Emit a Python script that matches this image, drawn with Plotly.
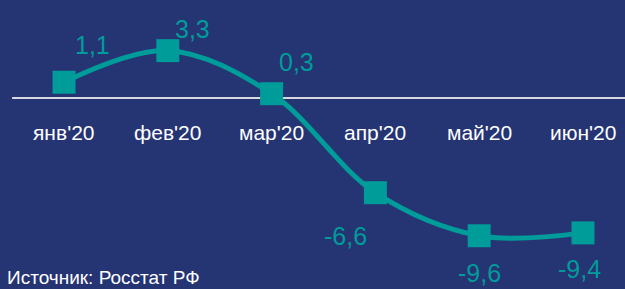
import plotly.graph_objects as go

categories = ["янв'20", "фев'20", "мар'20", "апр'20", "май'20", "июн'20"]
values = [1.1, 3.3, 0.3, -6.6, -9.6, -9.4]
value_labels = ["1,1", "3,3", "0,3", "-6,6", "-9,6", "-9,4"]
source_text = "Источник: Росстат РФ"

BG = "#253473"
TEAL = "#009c9a"
FONT = "Liberation Sans, Arial, sans-serif"

x_idx = list(range(len(categories)))

fig = go.Figure()
fig.add_shape(type="line", x0=-0.5, x1=5.6, y0=0, y1=0, xref="x", yref="y",
              line=dict(color="#d8d8e0", width=2), layer="below")
fig.add_trace(go.Scatter(
    x=x_idx, y=values, mode="lines+markers",
    line=dict(color=TEAL, width=5, shape="spline", smoothing=1.0),
    marker=dict(symbol="square", size=23, color=TEAL),
    hoverinfo="skip", showlegend=False))

# category labels under the zero line
for i, c in enumerate(categories):
    fig.add_annotation(x=i, y=0, text=c, showarrow=False, xref="x", yref="y",
                       yshift=-34, font=dict(family=FONT, size=21, color="white"))

# value labels
offsets = [(28, 37), (25, 22), (25, 32), (-30, -43), (0, -37), (-3, -36)]
for i, (v, t) in enumerate(zip(values, value_labels)):
    dx, dy = offsets[i]
    fig.add_annotation(x=i, y=v, text=t, showarrow=False, xref="x", yref="y",
                       xshift=dx, yshift=dy,
                       font=dict(family=FONT, size=25, color=TEAL))

fig.add_annotation(x=0, y=0, xref="paper", yref="paper", text=source_text,
                   showarrow=False, xanchor="left", yanchor="bottom",
                   xshift=6, yshift=0, borderpad=0,
                   font=dict(family=FONT, size=19, color="white"))

fig.update_layout(
    width=625, height=289,
    margin=dict(l=0, r=0, t=0, b=0),
    paper_bgcolor=BG, plot_bgcolor=BG,
    xaxis=dict(range=[-0.617, 5.405], visible=False, fixedrange=True),
    yaxis=dict(range=[-13.31, 6.83], visible=False, fixedrange=True),
)
fig.write_html("out.html", config={"displayModeBar": False},
               post_script="document.body.style.margin='0';document.body.style.overflow='hidden';")
